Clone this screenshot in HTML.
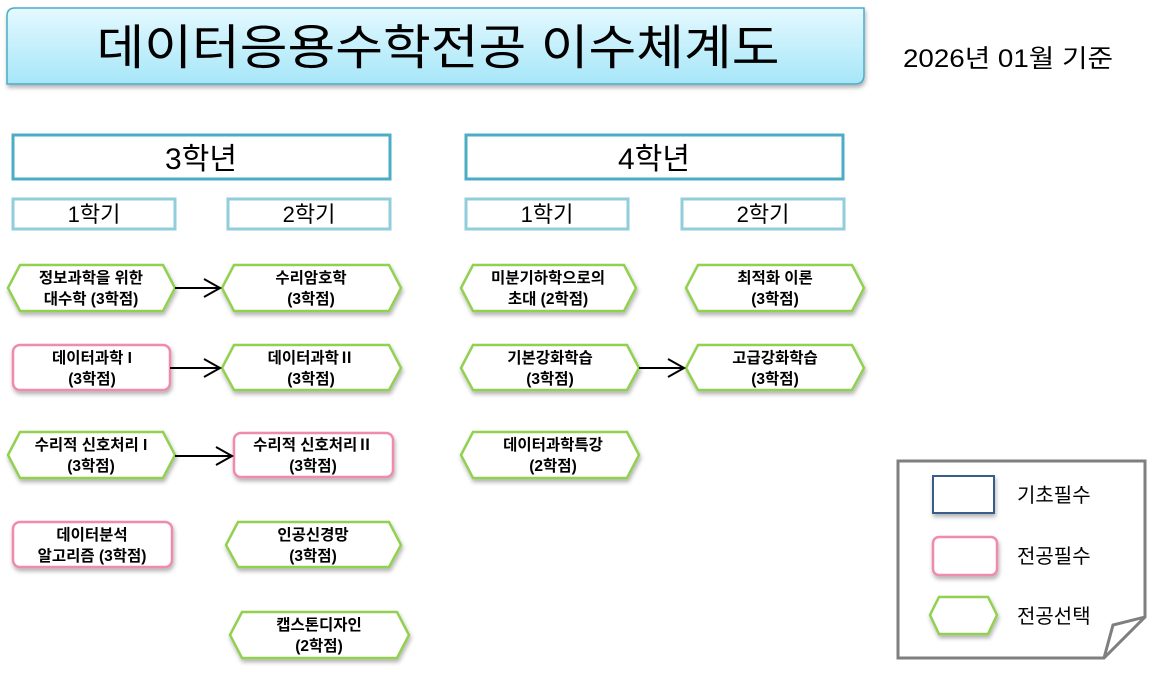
<!DOCTYPE html>
<html><head><meta charset="utf-8"><style>
html,body{margin:0;padding:0;background:#fff;}
svg{display:block;}
text{font-family:"Liberation Sans","Noto Sans CJK KR","NanumGothic",sans-serif;}
.b{font-weight:bold;font-size:15.5px;text-anchor:middle;fill:#000;}
</style></head><body>
<svg width="1157" height="674" viewBox="0 0 1157 674" xmlns="http://www.w3.org/2000/svg">
<defs>
<linearGradient id="tg" x1="0" y1="0" x2="0" y2="1">
<stop offset="0" stop-color="#e4f9ff"/><stop offset="1" stop-color="#a6e6f8"/></linearGradient>
<filter id="sh" x="-10%" y="-20%" width="120%" height="150%"><feDropShadow dx="1" dy="3" stdDeviation="2" flood-color="#000" flood-opacity="0.3"/></filter>
</defs>
<path d="M15,8 H864 V75 Q864,84 855,84 H7 V16 Q7,8 15,8 Z" fill="url(#tg)" stroke="#4bacc6" stroke-width="1.5" filter="url(#sh)"/>
<text x="438" y="64" font-size="48" text-anchor="middle" textLength="683" lengthAdjust="spacingAndGlyphs">데이터응용수학전공 이수체계도</text>
<text x="903" y="67" font-size="25" textLength="210" lengthAdjust="spacingAndGlyphs">2026년 01월 기준</text>

<g fill="#fff" stroke="#4bacc6" stroke-width="3">
<rect x="13" y="135" width="377" height="44"/>
<rect x="466" y="135" width="377" height="44"/>
</g>
<text x="201" y="169" font-size="30" text-anchor="middle">3학년</text>
<text x="654" y="169" font-size="30" text-anchor="middle">4학년</text>
<g fill="#fff" stroke="#92cddc" stroke-width="3">
<rect x="13" y="199" width="162" height="30"/>
<rect x="228" y="199" width="162" height="30"/>
<rect x="466" y="199" width="162" height="30"/>
<rect x="682" y="199" width="162" height="30"/>
</g>
<g font-size="22" text-anchor="middle">
<text x="94" y="222">1학기</text><text x="309" y="222">2학기</text>
<text x="547" y="222">1학기</text><text x="763" y="222">2학기</text>
</g>

<g fill="#fff" stroke="#92d050" stroke-width="2.5" filter="url(#sh)">
<polygon points="8,288 20,265 163,265 175,288 163,311 20,311"/>
<polygon points="222,288 234,265 389,265 401,288 389,311 234,311"/>
<polygon points="222,368 234,345 389,345 401,368 389,390 234,390"/>
<polygon points="8,455 20,432 163,432 175,455 163,478 20,478"/>
<polygon points="226,545 238,522 389,522 401,545 389,567 238,567"/>
<polygon points="230,635 242,612 397,612 409,635 397,658 242,658"/>
<polygon points="461,288 473,265 624,265 636,288 624,311 473,311"/>
<polygon points="686,288 698,265 852,265 864,288 852,311 698,311"/>
<polygon points="461,368 473,345 627,345 639,368 627,390 473,390"/>
<polygon points="686,368 698,345 852,345 864,368 852,390 698,390"/>
<polygon points="461,455 473,432 627,432 639,455 627,478 473,478"/>
</g>
<g fill="#fff" stroke="#f08bab" stroke-width="2.5" filter="url(#sh)">
<rect x="13" y="345" width="157" height="45" rx="7"/>
<rect x="234" y="433" width="159" height="44" rx="7"/>
<rect x="13" y="522" width="159" height="45" rx="7"/>
</g>

<g stroke="#000" stroke-width="2" fill="none">
<line x1="175" y1="288" x2="220" y2="288"/><polyline points="204,279 220,288 204,297"/>
<line x1="170" y1="368" x2="220" y2="368"/><polyline points="204,359 220,368 204,377"/>
<line x1="175" y1="456" x2="232" y2="456"/><polyline points="216,447 232,456 216,465"/>
<line x1="639" y1="368" x2="684" y2="368"/><polyline points="668,359 684,368 668,377"/>
</g>

<text class="b" x="91" y="283">정보과학을 위한</text><text class="b" x="91" y="304">대수학 (3학점)</text>
<text class="b" x="311" y="283">수리암호학</text><text class="b" x="311" y="304">(3학점)</text>
<text class="b" x="92" y="363">데이터과학 I</text><text class="b" x="92" y="384">(3학점)</text>
<text class="b" x="311" y="363">데이터과학Ⅱ</text><text class="b" x="311" y="384">(3학점)</text>
<text class="b" x="91" y="450">수리적 신호처리 I</text><text class="b" x="91" y="471">(3학점)</text>
<text class="b" x="313" y="450">수리적 신호처리Ⅱ</text><text class="b" x="313" y="471">(3학점)</text>
<text class="b" x="92" y="540">데이터분석</text><text class="b" x="92" y="561">알고리즘 (3학점)</text>
<text class="b" x="313" y="540">인공신경망</text><text class="b" x="313" y="561">(3학점)</text>
<text class="b" x="319" y="630">캡스톤디자인</text><text class="b" x="319" y="651">(2학점)</text>
<text class="b" x="548" y="283">미분기하학으로의</text><text class="b" x="548" y="304">초대 (2학점)</text>
<text class="b" x="775" y="283">최적화 이론</text><text class="b" x="775" y="304">(3학점)</text>
<text class="b" x="550" y="363">기본강화학습</text><text class="b" x="550" y="384">(3학점)</text>
<text class="b" x="775" y="363">고급강화학습</text><text class="b" x="775" y="384">(3학점)</text>
<text class="b" x="553" y="450">데이터과학특강</text><text class="b" x="553" y="471">(2학점)</text>

<path d="M898,461 H1145 V617 L1104,658 H898 Z" fill="#fff" stroke="#7f7f7f" stroke-width="3"/>
<path d="M1104,658 L1113,625 L1145,617" fill="none" stroke="#7f7f7f" stroke-width="3"/>
<rect x="933" y="476" width="61" height="37" fill="#fff" stroke="#385d8a" stroke-width="2" filter="url(#sh)"/>
<rect x="933" y="537" width="64" height="38" rx="6" fill="#fff" stroke="#f08bab" stroke-width="2.5" filter="url(#sh)"/>
<polygon points="930,615 939,597 988,597 997,615 988,634 939,634" fill="#fff" stroke="#92d050" stroke-width="2.5" filter="url(#sh)"/>
<g font-size="20">
<text x="1017" y="502">기초필수</text>
<text x="1017" y="563">전공필수</text>
<text x="1017" y="623">전공선택</text>
</g>
</svg>
</body></html>
